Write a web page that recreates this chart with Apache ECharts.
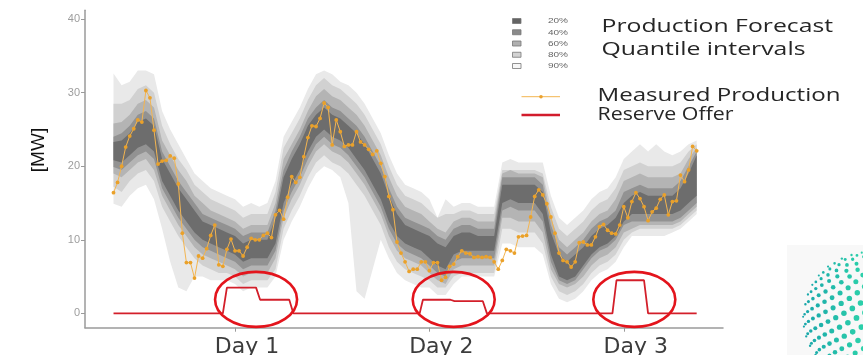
<!DOCTYPE html>
<html>
<head>
<meta charset="utf-8">
<title>Production forecast and reserve offer</title>
<script src="https://cdn.jsdelivr.net/npm/echarts@6/dist/echarts.min.js"></script>
<style>
  html, body { margin: 0; padding: 0; background: #ffffff; }
  #chart { width: 863px; height: 355px; }
</style>
</head>
<body>
<div id="chart"></div>
<script>
// ---- Axis labels ---------------------------------------------------------
const dayLabels = ['Day 1', 'Day 2', 'Day 3'];
const dayTickHours = [15, 39, 63];
const yTicks = [0, 10, 20, 30, 40];
const bandLabels = ['20%', '40%', '60%', '80%', '90%'];

// ---- Forecast quantile bounds, hourly (hour 0 .. 72), MW ---------------
const band90Lo = [14.9,14.5,16,17,17.5,15.5,11.5,7,3.5,3,5,5,4.5,4.5,4.5,4,3,3.5,3.5,3.5,
  5,10,12.5,14.5,17,19,20,19.5,18.5,15,3,2,6,10,7.5,5.5,4.5,4,3.5,3.5,
  2.5,2.5,4,5,5,5,5,5,9.5,9.5,9,9,9,8,4,2,1.5,2,3,4.5,
  5.5,6,7,9,10.5,10.5,10.5,10.5,10.5,11,11.5,12.5,13.5];
const band90Hi = [32.6,31,31.5,33,33,32.5,27.5,25,23,21,19,18,17,16.5,16,15.5,14.5,15,14.5,15,
  18,24,26,28,30.5,32.5,33,32.5,31.5,31,30,28.5,26.5,24.5,21.5,19,17.5,17,16.5,15.5,
  13,15.5,14.5,15,15,14.5,14.5,14.5,20.5,21,20.5,20.5,20.5,20.5,16,13,12,13,14,15.5,
  16.5,17,18.5,21,22,23,22,23,22,21.5,22,23,23.5];
const band80Lo = [17.2,16.5,18,19,19.5,18,14.5,12.5,10.5,9,7.5,6.5,6,5.5,5.5,5,4,4.5,4.5,4.5,
  6,11.5,14,16,18.5,20.5,21.5,20.5,20,19,17.5,16,14,12,9,7,6,5.5,5,4.5,
  3.5,3.5,5,5.5,5.5,5.5,5.5,5.5,11.5,11.5,11,11,11,9.5,5,3,2.5,3,4,5.5,
  6.5,7,8,10,11,11.5,11.5,11.5,11.5,11.5,12,13,14];
const band80Hi = [28.5,28.5,29,30.5,31,30,25.5,23,21,19.5,17.5,16.5,15.5,15,14.5,14,13,13.5,13.5,13.5,
  16.5,22.5,24.5,26.5,29,31,32,31,30.5,29.5,28.5,27,25,23,20,17.5,16,15.5,15,14,
  13,13.5,13.5,14,14,13.5,13.5,13.5,19.5,19.5,19.5,19.5,19.5,19,14.5,11.5,10.5,11.5,12.5,14,
  15,15.5,17,19.5,20,20.5,20,20,20,20,20.5,22,23];
const band60Lo = [19,18.5,19.5,20.5,21,19.5,16,14,12,10.5,9,8,7.5,7,6.5,6,5,5.5,5.5,5.5,
  7.5,13,15.5,17.5,20,22,23,22,21.5,20.5,19,17.5,15.5,13.5,10.5,8.5,7.5,7,6.5,5.5,
  4.5,4,6,6.5,6.5,6.5,6.5,6.5,13,13,12.5,12.5,12.5,11,6,4,3.5,4,5,6.5,
  7.5,8,9,11,11.5,12,12,12,12,12,12.5,13.5,14.5];
const band60Hi = [25.8,26,27,28.5,29,28,23.5,21.5,19.5,18,16,15,14,13.5,13,12.5,11.5,12,12,12,
  15,21,23,25,27.5,29.5,30.5,29.5,29,28,27,25.5,23.5,21.5,18.5,16,14.5,14,13.5,12.5,
  11.5,11,12.5,13,13,12.5,12.5,12.5,19,19.5,19,19,19,18.5,13,10,9,10,11,12.5,
  13.5,14,15.5,18,18.5,19,18.5,18.5,18.5,18.5,19,21,22.5];
const band40Lo = [19.9,19.5,20.5,21.5,22,21,17,15,13,11.5,10,9,8.5,8,7.5,7,6,6.5,6.5,6.5,
  8.5,14,16.5,18.5,21,23,24,23,22.5,21.5,20,18.5,16.5,14.5,11.5,9.5,8.5,8,7.5,6.5,
  5.5,5,7,7.5,7.5,7.5,7.5,7.5,14,14.5,14,14,14,12.5,7,4.5,4,4.5,6,7.5,
  8.5,9,10,12,12.5,12.5,12.5,12.5,12.5,12.5,13,14,15];
const band40Hi = [24,24.5,25.5,27,27.5,26.5,22,20,18,16.5,15,13.5,13,12.5,12,11.5,10.5,11,11,11,
  14,19.5,22,24,26.5,28,29,28,27.5,26.5,25.5,24,22,20,17,14.5,13,12.5,12,11.5,
  10.5,10,11.5,12,12,11.5,11.5,11.5,18.5,18.5,18.5,18.5,18.5,17.5,12,9,8,9,10,11.5,
  12.5,13,14,16.5,17,17.5,17,17,17,17,18,20,22];
const band20Lo = [20.8,20.5,21.5,22.5,23,22,18,16,14,12.5,11,10,9.5,9,8.5,8,7,7.5,7.5,7.5,
  9.5,15,17.5,19.5,22,24,25,24,23.5,22.5,21,19.5,17.5,15.5,12.5,10.5,9.5,9,8.5,7.5,
  6.5,6,8,8.5,8.5,8.5,8.5,8.5,15,15.5,15,15,15,13.5,8,5,4.5,5,6.5,8,
  9,9.5,10.5,12.5,13.5,13.5,13.5,13.5,13.5,13.5,14,15,16];
const band20Hi = [23.3,23.5,24.5,26,26.5,25.5,21,19,17,15.5,14,12.5,12,11.5,11,10.5,9.5,10,10,10,
  13,18.5,21,23,25.5,27,28,27,26.5,25.5,24.5,23,21,19,16,13.5,12,11.5,11,10.5,
  9.5,9,10.5,11,11,10.5,10.5,10.5,17.5,17.5,17.5,17.5,17.5,16.5,11,8,7,8,9,10.5,
  11.5,12,13,15,16,16.5,16,16,16,16,17,19,21.5];

// ---- Measured production, half-hourly (hour 0 .. 72), MW ----------------
const measured = [
  16.4,17.8,20.0,22.6,24.1,25.1,26.3,26.0,30.3,29.3,
  24.9,20.3,20.7,20.8,21.4,21.1,17.6,10.9,6.9,6.9,
  4.8,7.8,7.5,8.8,10.6,12.0,6.6,6.4,8.7,10.1,
  8.5,8.5,7.8,9.0,10.2,10.0,10.0,10.6,10.9,10.3,
  13.4,14.0,12.8,15.8,18.6,17.8,18.5,21.3,23.9,25.5,
  25.4,26.5,28.6,28.0,22.9,26.3,24.7,22.7,22.9,22.9,
  24.7,23.3,22.9,22.3,21.6,22.1,20.4,18.6,15.9,14.1,
  9.7,8.2,7.0,5.7,6.0,6.0,7.0,7.0,5.8,6.9,
  6.9,4.5,4.9,6.4,6.7,7.7,8.5,8.2,8.1,7.6,
  7.7,7.6,7.7,7.6,7.0,6.0,7.2,8.7,8.5,8.2,
  10.4,10.5,10.6,13.1,15.9,16.8,16.1,14.9,13.1,10.9,
  8.2,7.2,7.0,6.3,7.0,9.6,9.7,9.3,9.3,10.4,
  11.8,12.1,11.3,10.9,10.8,12.0,14.5,13.0,15.2,16.4,
  15.6,14.5,12.6,13.8,14.3,15.5,16.1,13.4,15.2,15.3,
  18.8,17.9,19.5,22.7,22.1
];

// ---- Reserve offer, breakpoints (hour, MW) -------------------------------
const offerHours  = [0, 13.5, 14.0, 17.6, 18.1, 21.7, 22.2, 37.8, 38.2, 41.6, 42.1, 45.6, 46.1, 61.6, 62.1, 65.5, 66.0, 72];
const offerValues = [0, 0,    3.5,  3.5,  1.85, 1.85, 0,    0,    1.85, 1.85, 1.65, 1.65, 0,    0,    4.5,  4.5,  0,    0];

// Hours of the highlighted offer periods (ring centres) and ring level, MW
const highlightHours = [17.6, 42.0, 64.3];
const highlightLevel = 1.9;

// ---------------------------------------------------------------------------
const bandHours = band20Lo.map((_, i) => i);
const measuredHours = measured.map((_, i) => i / 2);

// Outer interval first so the narrower ones are painted on top
const bandStyles = [
  { lo: band90Lo, hi: band90Hi, color: '#e9e9e9' },
  { lo: band80Lo, hi: band80Hi, color: '#d1d1d1' },
  { lo: band60Lo, hi: band60Hi, color: '#b4b4b4' },
  { lo: band40Lo, hi: band40Hi, color: '#929292' },
  { lo: band20Lo, hi: band20Hi, color: '#6d6d6d' }
];

const series = [];

// Each quantile interval is one filled polygon: lower bound forward, upper bound back
series.push({
  type: 'custom', z: 1, silent: true,
  data: bandStyles.map((b) => [bandHours[0], b.lo[0]]),
  renderItem: function (params, api) {
    const b = bandStyles[params.dataIndex];
    const pts = [];
    for (let i = 0; i < bandHours.length; i++) pts.push(api.coord([bandHours[i], b.lo[i]]));
    for (let i = bandHours.length - 1; i >= 0; i--) pts.push(api.coord([bandHours[i], b.hi[i]]));
    return { type: 'polygon', shape: { points: pts }, style: { fill: b.color, stroke: null } };
  }
});

series.push({
  type: 'line', name: 'Measured Production', z: 3, silent: true,
  data: measuredHours.map((h, i) => [h, measured[i]]),
  symbol: 'circle', symbolSize: 3.8, showSymbol: true,
  itemStyle: { color: '#eaa12a' },
  lineStyle: { color: '#f3b551', width: 1 }
});

series.push({
  type: 'line', name: 'Reserve Offer', z: 4, silent: true,
  data: offerHours.map((h, i) => [h, offerValues[i]]),
  symbol: 'none',
  lineStyle: { color: '#d31f2a', width: 1.8 }
});

series.push({
  type: 'custom', z: 5, silent: true,
  data: highlightHours.map(h => [h, highlightLevel]),
  renderItem: function (params, api) {
    const c = api.coord([api.value(0), api.value(1)]);
    return {
      type: 'ellipse',
      shape: { cx: c[0], cy: c[1], rx: 41, ry: 27.5 },
      style: { fill: 'none', stroke: '#e3141c', lineWidth: 2.6 }
    };
  }
});

// ---- Legend block (drawn as graphics) ------------------------------------
const legendFill = ['#646464', '#8a8a8a', '#b0b0b0', '#d3d3d3', '#f6f6f6'];
const graphics = [];
bandLabels.forEach((t, i) => {
  const y = 18.5 + i * 11.25;
  graphics.push({ type: 'rect', silent: true, z: 10, shape: { x: 512.5, y: y, width: 8.5, height: 5 },
    style: { fill: legendFill[i], stroke: '#777777', lineWidth: 0.8 } });
  graphics.push({ type: 'text', silent: true, z: 10, x: 548, y: y + 2.7, scaleX: 1.25,
    style: { text: t, font: '8px "Liberation Sans"', fill: '#666666', verticalAlign: 'middle' } });
});

// Large legend captions, widened to their column width
const bigFont = '17.5px "Open Sans"';
const measureCtx = document.createElement('canvas').getContext('2d');
measureCtx.font = bigFont;
[['Production Forecast', 601.5, 27.5, 231.5], ['Quantile intervals', 601.5, 50, 204],
 ['Measured Production', 597.5, 96.5, 243], ['Reserve Offer', 597.5, 115, 136]].forEach(([t, x, y, w]) => {
  const sx = w / measureCtx.measureText(t).width;
  graphics.push({ type: 'text', silent: true, z: 10, x: x, y: y, scaleX: sx,
    style: { text: t, font: bigFont, fill: '#262626', verticalAlign: 'middle' } });
});
graphics.push({ type: 'line', silent: true, z: 10, shape: { x1: 521.5, y1: 96.7, x2: 560, y2: 96.7 },
  style: { stroke: '#f3b551', lineWidth: 1 } });
graphics.push({ type: 'circle', silent: true, z: 10, shape: { cx: 541, cy: 96.7, r: 1.8 },
  style: { fill: '#eba22e' } });
graphics.push({ type: 'line', silent: true, z: 10, shape: { x1: 521.5, y1: 115, x2: 560, y2: 115 },
  style: { stroke: '#d21c2c', lineWidth: 2.6 } });

// Axis title
graphics.push({ type: 'text', silent: true, z: 10, x: 39, y: 150, rotation: Math.PI / 2,
  style: { text: '[MW]', font: '19px "Liberation Sans"', fill: '#111111', align: 'center', verticalAlign: 'middle' } });

// ---- Decorative dotted globe in the lower-right corner --------------------
graphics.push({ type: 'rect', silent: true, z: 8, shape: { x: 787, y: 245, width: 76, height: 110 },
  style: { fill: '#f8f8f8' } });
(function () {
  // evenly spread dots on a sphere (golden-angle spiral), front half only
  const cx = 869, cy = 318, R = 66, n = 520, tilt = 0.3;
  const golden = Math.PI * (3 - Math.sqrt(5));
  for (let i = 0; i < n; i++) {
    const y = 1 - (i + 0.5) * 2 / n;
    const rr = Math.sqrt(1 - y * y);
    const th = golden * i;
    const x = Math.cos(th) * rr, z = Math.sin(th) * rr;
    const y2 = y * Math.cos(tilt) - z * Math.sin(tilt);
    const z2 = y * Math.sin(tilt) + z * Math.cos(tilt);
    if (z2 < 0.05) continue;
    const px = cx + R * x, py = cy - R * y2;
    if (px > 866 || py > 360 || py < 250) continue;
    const t = Math.max(0, Math.min(1, (px - 800) / 65));
    const r = Math.round(24 + 20 * t), g = Math.round(163 + 47 * t), bl = 170;
    graphics.push({ type: 'circle', silent: true, z: 9, shape: { cx: px, cy: py, r: 0.9 + 2.0 * z2 },
      style: { fill: 'rgb(' + r + ',' + g + ',' + bl + ')' } });
  }
})();

const chart = echarts.init(document.getElementById('chart'), null, { renderer: 'canvas', width: 863, height: 355 });
chart.setOption({
  animation: false,
  backgroundColor: '#ffffff',
  grid: { left: 85, right: 140, top: 10.3, bottom: 27.3, containLabel: false, outerBoundsMode: 'none' },
  xAxis: {
    type: 'value', min: -3.52, max: 75.25,
    axisLine: { show: true, onZero: false, lineStyle: { color: '#9a9a9a', width: 1.5 } },
    axisTick: { show: true, customValues: dayTickHours, length: 4, lineStyle: { color: '#9a9a9a', width: 1 } },
    axisLabel: {
      customValues: dayTickHours,
      formatter: v => dayLabels[dayTickHours.indexOf(v)] || '',
      color: '#3c3c3c', fontFamily: 'DejaVu Sans', fontSize: 22, margin: 9, padding: [0, 0, 0, 24]
    },
    splitLine: { show: false }
  },
  yAxis: {
    type: 'value', min: -1.95, max: 41.2,
    axisLine: { show: true, onZero: false, lineStyle: { color: '#9a9a9a', width: 1.5 } },
    axisTick: { show: true, customValues: yTicks, length: 4, lineStyle: { color: '#9a9a9a', width: 1 } },
    axisLabel: { customValues: yTicks, color: '#9d9d9d', fontFamily: 'Liberation Sans', fontSize: 11, margin: 5 },
    splitLine: { show: false }
  },
  series: series,
  graphic: { elements: graphics }
});
</script>
</body>
</html>
